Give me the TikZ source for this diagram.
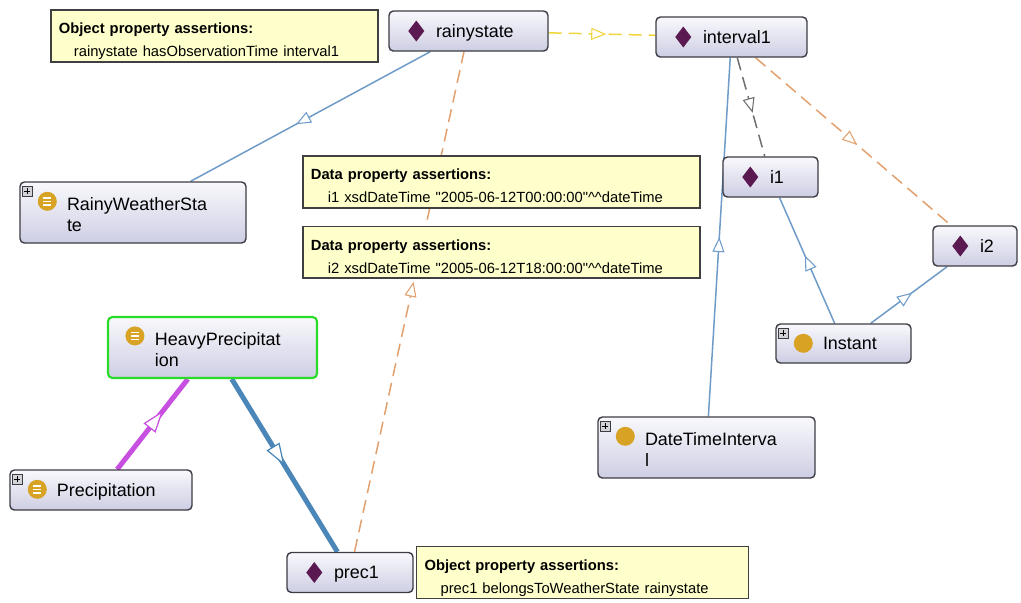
\documentclass[tikz,border=0pt]{standalone}
\usepackage{fontspec}
\setmainfont{Liberation Sans}
\usepackage{tikz}
\usetikzlibrary{positioning,backgrounds,arrows.meta,decorations.markings}

\definecolor{indivc}{RGB}{90,25,80}
\definecolor{clsc}{RGB}{216,162,36}
\definecolor{boxtop}{RGB}{248,248,252}
\definecolor{boxbot}{RGB}{206,206,228}
\definecolor{boxline}{RGB}{60,60,68}
\definecolor{notefill}{RGB}{255,255,204}
\definecolor{noteline}{RGB}{64,64,64}
\definecolor{plusc}{RGB}{210,210,215}
\definecolor{greenc}{RGB}{40,220,40}
\definecolor{isacol}{RGB}{110,155,200}
\definecolor{isacoltwo}{RGB}{74,134,184}
\definecolor{purplec}{RGB}{200,80,225}
\definecolor{yellowc}{RGB}{240,212,60}
\definecolor{orangec}{RGB}{226,160,110}
\definecolor{greyc}{RGB}{110,110,110}

\newcommand{\nodefont}{\fontsize{10.2}{12.2}\selectfont}
\newcommand{\notefont}{\fontsize{8.4}{13}\selectfont}
\newcommand{\lpad}{\hspace*{9.4mm}}
\newcommand{\entline}{\rule[-2.3pt]{0pt}{11.9pt}}
\newcommand{\enttop}{\rule{0pt}{11.9pt}}
\newcommand{\entbot}{\rule[-2.3pt]{0pt}{0pt}}
\newcommand{\notetop}{\rule{0pt}{13.5pt}}
\newcommand{\notebot}{\rule[-3pt]{0pt}{0pt}}

\tikzset{
    individual/.style={rectangle,rounded corners=2.5pt,draw=boxline,line width=0.8pt,top color=boxtop,bottom color=boxbot,text width=#1,inner xsep=0pt,inner ysep=0pt,align=left,font=\nodefont,minimum height=8mm},
    concept/.style={individual=#1},
    tall/.style={minimum height=12.2mm},
    assertion/.style={rectangle,draw=noteline,line width=1pt,fill=notefill,text width=#1,inner xsep=1.6mm,inner ysep=0pt,align=left,font=\notefont,anchor=north west},
    isa/.style={draw=isacol,line width=0.3mm},
    isathick/.style={draw=isacoltwo,line width=1mm,>={Triangle[fill=white,line width=0.7pt,length=4.4mm,width=3mm]}},
    subpurple/.style={draw=purplec,line width=1mm,>={Triangle[fill=white,line width=0.7pt,length=4.4mm,width=3mm]}},
    yellowrel/.style={draw=yellowc,line width=0.3mm,dash pattern=on 2.6mm off 1.4mm},
    orangerel/.style={draw=orangec,line width=0.3mm,dash pattern=on 2.6mm off 1.4mm},
    greyrel/.style={draw=greyc,line width=0.3mm,dash pattern=on 2.6mm off 1.4mm},
    midarrow/.style={postaction={decorate},decoration={markings,mark=at position #1 with {\arrow[solid]{>}}}},
}

\begin{document}
\begin{tikzpicture}[x=0.2mm,y=-0.2mm,>={Triangle[fill=white,line width=0.6pt,length=3mm,width=2.4mm]}]
\useasboundingbox (0,0) rectangle (1021,602);
% individuals
\node[individual=31.8mm] (rainy) at (468.5,31) {\lpad\entline rainystate};
\node[individual=30.2mm] (intv) at (731.5,37) {\lpad\entline interval1};
\node[individual=19mm] (ione) at (770.5,177) {\lpad\entline i1};
\node[individual=16.8mm] (itwo) at (975,246) {\lpad\entline i2};
\node[individual=25.2mm] (prec) at (350,572.5) {\lpad\entline prec1};
% classes
\node[concept=45.2mm,tall] (rws) at (133,212.5) {\lpad\enttop RainyWeatherSta\\\lpad\entbot te};
\node[concept=41.8mm,tall,draw=greenc,line width=1.2pt] (heavy) at (212.5,347.5) {\lpad\enttop HeavyPrecipitat\\\lpad\entbot ion};
\node[concept=36.4mm] (precip) at (101,490) {\lpad\entline Precipitation};
\node[concept=27mm,minimum height=7.8mm] (instant) at (843.5,343.5) {\lpad\entline Instant};
\node[concept=43.4mm,tall] (dti) at (706.5,447.5) {\lpad\enttop DateTimeInterva\\\lpad\entbot l};
% assertions
\node[assertion=62.2mm] (opaone) at (50,9) {\notetop\textbf{Object property assertions:}\\\hspace*{3mm}rainystate hasObservationTime interval1\notebot};
\node[assertion=76.2mm] (dpaone) at (302,155) {\notetop\textbf{Data property assertions:}\\\hspace*{3.4mm}i1 xsdDateTime \textquotedbl 2005-06-12T00:00:00\textquotedbl\textasciicircum\textasciicircum dateTime\notebot};
\node[assertion=76.2mm,below=3.4mm of dpaone] (dpatwo) {\notetop\textbf{Data property assertions:}\\\hspace*{3.4mm}i2 xsdDateTime \textquotedbl 2005-06-12T18:00:00\textquotedbl\textasciicircum\textasciicircum dateTime\notebot};
\node[assertion=63.2mm,right=0.4mm of prec] (opatwo) {\notetop\textbf{Object property assertions:}\\\hspace*{3.2mm}prec1 belongsToWeatherState rainystate\notebot};
% icons
\foreach \n in {rainy,intv,ione,itwo,prec}
  \fill[indivc,shift={(\n.west)}] (28,-10.5) -- (36,0) -- (28,10.5) -- (20,0) -- cycle;
\foreach \n in {rws,heavy,precip,instant,dti}
  \fill[clsc,shift={(\n.north west)}] (28,20) circle[radius=1.9mm];
\foreach \n in {rws,heavy,precip}
  \draw[white,line width=0.3mm,shift={(\n.north west)}] (24,16.5) -- (32,16.5) (24,20) -- (32,20) (24,23.5) -- (32,23.5);
\foreach \n in {rws,precip,instant,dti} {
  \draw[fill=plusc,draw=boxline,line width=0.4pt,shift={(\n.north west)}] (3,5) rectangle (13,15);
  \draw[line width=0.5pt,shift={(\n.north west)}] (5,10) -- (11,10) (8,7) -- (8,13);
}
% connectors
\begin{scope}[on background layer]
\draw[yellowrel,midarrow=0.54] (rainy) -- (intv);
\draw[isa,midarrow=0.56] (rainy) -- (rws);
\draw[orangerel,midarrow=0.54] (prec) -- (rainy);
\draw[greyrel,midarrow=0.56] (intv) -- (ione);
\draw[orangerel,midarrow=0.52] (intv) -- (itwo);
\draw[isa,midarrow=0.5] (dti) -- (intv);
\draw[isa,midarrow=0.54] (instant) -- (ione);
\draw[isa,midarrow=0.54] (instant) -- (itwo);
\draw[subpurple,midarrow=0.65] (precip) -- (heavy);
\draw[isathick,midarrow=0.5] (heavy) -- (prec);
\end{scope}
\end{tikzpicture}
\end{document}
